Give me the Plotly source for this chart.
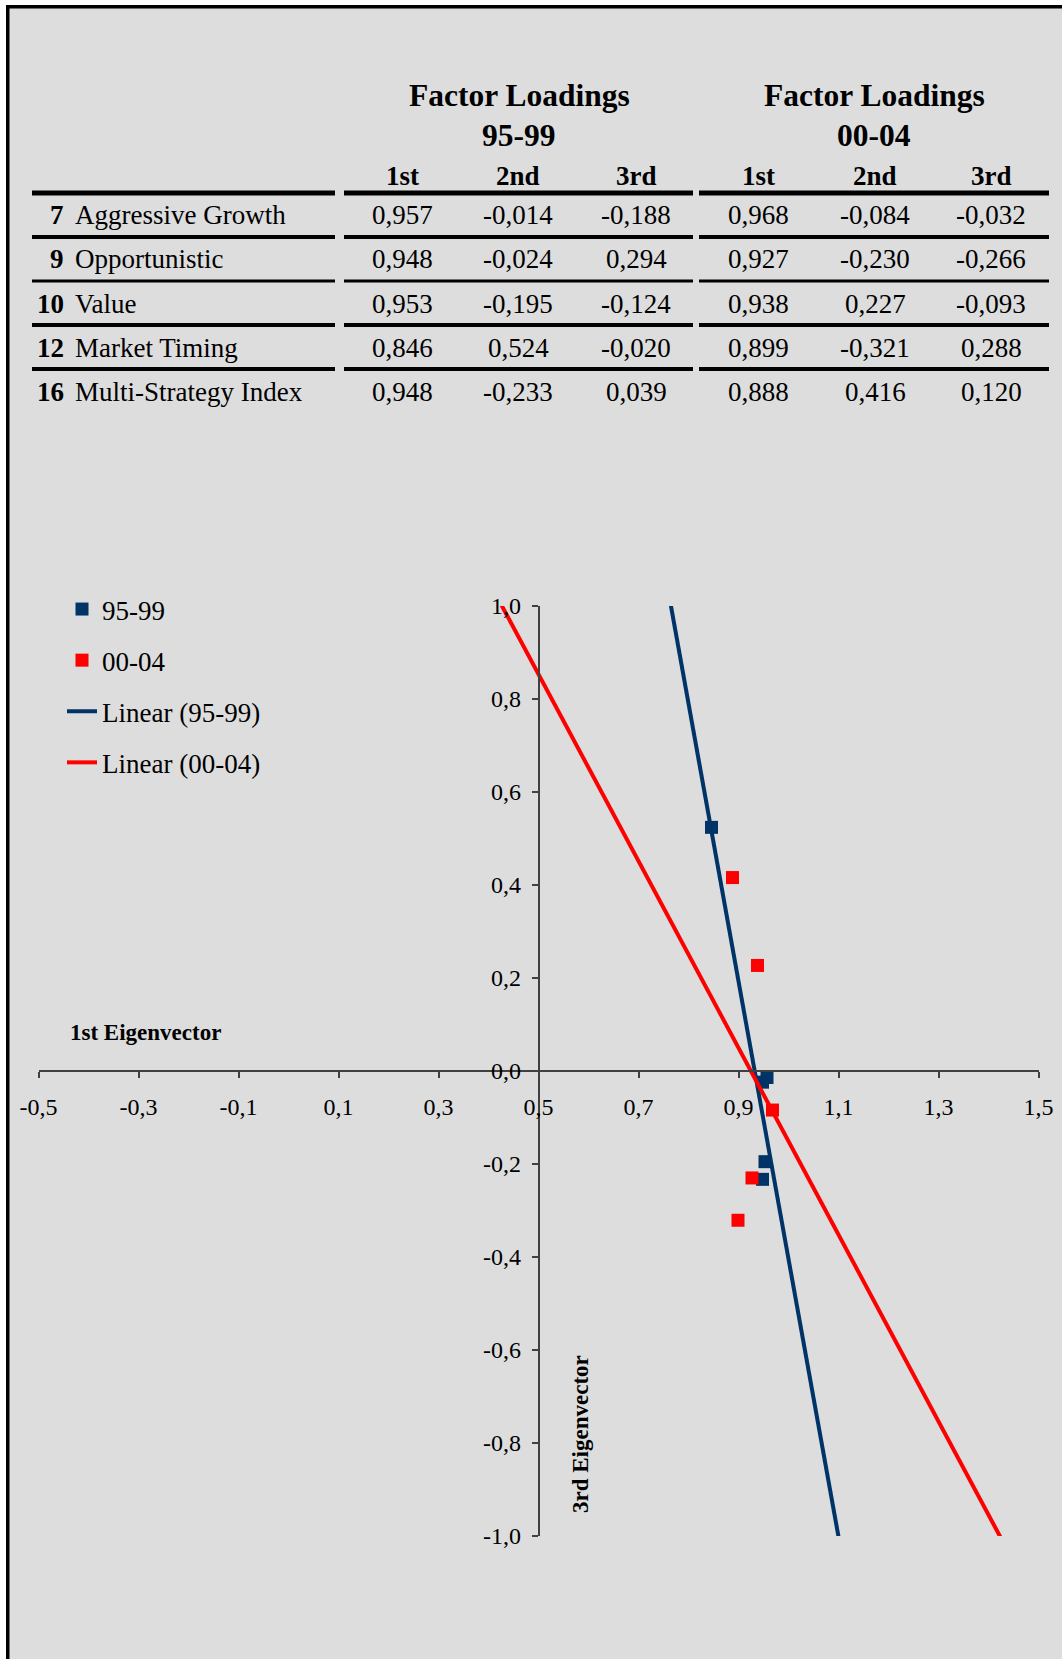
import numpy as np
import plotly.graph_objects as go

# ---------------- data ----------------
strategy_ids = ["7", "9", "10", "12", "16"]
strategy_names = ["Aggressive Growth", "Opportunistic", "Value", "Market Timing", "Multi-Strategy Index"]
column_labels = ["1st", "2nd", "3rd"]
period_labels = ["95-99", "00-04"]

loadings_9599_1st = [0.957, 0.948, 0.953, 0.846, 0.948]
loadings_9599_2nd = [-0.014, -0.024, -0.195, 0.524, -0.233]
loadings_9599_3rd = [-0.188, 0.294, -0.124, -0.020, 0.039]

loadings_0004_1st = [0.968, 0.927, 0.938, 0.899, 0.888]
loadings_0004_2nd = [-0.084, -0.230, 0.227, -0.321, 0.416]
loadings_0004_3rd = [-0.032, -0.266, -0.093, 0.288, 0.120]

x_range = [-0.5, 1.5]
y_range = [-1.0, 1.0]
x_ticks = [-0.5, -0.3, -0.1, 0.1, 0.3, 0.5, 0.7, 0.9, 1.1, 1.3, 1.5]
y_ticks = [-1.0, -0.8, -0.6, -0.4, -0.2, 0.0, 0.2, 0.4, 0.6, 0.8, 1.0]

# ---------------- geometry ----------------
W, H = 1062, 1659
FONT = "Liberation Serif, Times New Roman, serif"
NAVY = "#003366"
RED = "#FF0000"
BG = "#DDDDDD"
AXC = "#404040"


def px(x):
    return x / W


def py(y):
    return 1 - y / H


def fmt(v, nd):
    return f"{v:.{nd}f}".replace(".", ",")


plot_l, plot_r = 38.5, 1038.5
plot_t, plot_b = 606, 1536
x_dom = [px(plot_l), px(plot_r)]
y_dom = [py(plot_b), py(plot_t)]
y0_frac = y_dom[0] + (0 - y_range[0]) / (y_range[1] - y_range[0]) * (y_dom[1] - y_dom[0])
x05_frac = x_dom[0] + (0.5 - x_range[0]) / (x_range[1] - x_range[0]) * (x_dom[1] - x_dom[0])

fig = go.Figure()

fig.add_trace(go.Scatter(
    x=loadings_9599_1st, y=loadings_9599_2nd, mode="markers", name=period_labels[0],
    legendgroup="a",
    marker=dict(symbol="square", size=13, color=NAVY)))
fig.add_trace(go.Scatter(
    x=loadings_0004_1st, y=loadings_0004_2nd, mode="markers", name=period_labels[1],
    legendgroup="b",
    marker=dict(symbol="square", size=13, color=RED)))

xs = np.array(x_range)
for xv, yv, col, nm, g in [
    (loadings_9599_1st, loadings_9599_2nd, NAVY, "Linear (95-99)", "c"),
    (loadings_0004_1st, loadings_0004_2nd, RED, "Linear (00-04)", "d"),
]:
    m, b = np.polyfit(xv, yv, 1)
    fig.add_trace(go.Scatter(x=xs, y=m * xs + b, mode="lines", name=nm,
                             legendgroup=g, line=dict(color=col, width=4)))

# ---------------- table ----------------
annotations = []
shapes = []

col_x = [402, 518, 636, 758, 875, 991]
group_x = [519, 874]


def ann(text, x, y, size, anchor="center", bold=False, **kw):
    t = f"<b>{text}</b>" if bold else text
    annotations.append(dict(text=t, x=px(x), y=py(y), xref="paper", yref="paper",
                            xanchor=anchor, yanchor="middle", showarrow=False,
                            font=dict(family=FONT, size=size, color="black"), **kw))


for gx, per in zip(group_x, period_labels):
    ann("Factor Loadings", gx, 96, 31.5, bold=True)
    ann(per, gx, 136, 31.5, bold=True)
for i, cx in enumerate(col_x):
    ann(column_labels[i % 3], cx, 176, 27, bold=True)

row_y = [215, 259, 304, 348, 392]
line_y = [193, 237, 281, 325, 369]
line_w = [5, 4, 3, 4, 4]
segments = [(32, 335), (344, 693), (699, 1049)]
for ly, lw in zip(line_y, line_w):
    for x0, x1 in segments:
        shapes.append(dict(type="line", xref="paper", yref="paper",
                           x0=px(x0), x1=px(x1), y0=py(ly), y1=py(ly),
                           line=dict(color="black", width=lw)))

all_cols = [loadings_9599_1st, loadings_9599_2nd, loadings_9599_3rd,
            loadings_0004_1st, loadings_0004_2nd, loadings_0004_3rd]
for r in range(len(strategy_ids)):
    ry = row_y[r]
    ann(strategy_ids[r], 66, ry, 27, anchor="right", bold=True)
    ann(strategy_names[r], 73, ry, 27, anchor="left")
    for c, cx in enumerate(col_x):
        ann(fmt(all_cols[c][r], 3), cx, ry, 27)

# ---------------- axis titles ----------------
ann("1st Eigenvector", 68, 1032, 23, anchor="left", bold=True)
annotations.append(dict(text="<b>3rd Eigenvector</b>", x=px(580), y=py(1434),
                        xref="paper", yref="paper", xanchor="center", yanchor="middle",
                        textangle=-90, showarrow=False,
                        font=dict(family=FONT, size=23, color="black")))

# ---------------- border ----------------
shapes += [
    dict(type="rect", xref="paper", yref="paper", x0=0, x1=px(6), y0=0, y1=1,
         fillcolor="white", line=dict(width=0), layer="above"),
    dict(type="rect", xref="paper", yref="paper", x0=0, x1=1, y0=py(5), y1=1,
         fillcolor="white", line=dict(width=0), layer="above"),
    dict(type="rect", xref="paper", yref="paper", x0=px(6), x1=px(9.5), y0=0, y1=py(5),
         fillcolor="black", line=dict(width=0), layer="above"),
    dict(type="rect", xref="paper", yref="paper", x0=px(6), x1=1, y0=py(8.5), y1=py(5),
         fillcolor="black", line=dict(width=0), layer="above"),
]

fig.update_layout(
    width=W, height=H,
    margin=dict(l=0, r=0, t=0, b=0, autoexpand=False),
    paper_bgcolor=BG, plot_bgcolor=BG,
    font=dict(family=FONT, size=24, color="black"),
    showlegend=True,
    legend=dict(x=px(62), y=py(585), xanchor="left", yanchor="top",
                bgcolor="rgba(0,0,0,0)", font=dict(family=FONT, size=27, color="black"),
                traceorder="grouped", tracegroupgap=13),
    xaxis=dict(domain=x_dom, range=x_range, anchor="free", position=y0_frac,
               automargin=False,
               tickmode="array", tickvals=x_ticks, ticktext=[fmt(v, 1) for v in x_ticks],
               showline=True, linecolor=AXC, linewidth=1.5,
               ticks="outside", ticklen=6, tickwidth=1.5, tickcolor=AXC,
               showgrid=False, zeroline=False, ticklabelstandoff=8,
               tickfont=dict(family=FONT, size=24, color="black")),
    yaxis=dict(domain=y_dom, range=y_range, anchor="free", position=x05_frac,
               automargin=False,
               tickmode="array", tickvals=y_ticks, ticktext=[fmt(v, 1) for v in y_ticks],
               showline=True, linecolor=AXC, linewidth=1.5,
               ticks="outside", ticklen=6, tickwidth=1.5, tickcolor=AXC,
               showgrid=False, zeroline=False, ticklabelstandoff=6,
               tickfont=dict(family=FONT, size=24, color="black")),
    annotations=annotations,
    shapes=shapes,
)

fig.write_html("out.html")
